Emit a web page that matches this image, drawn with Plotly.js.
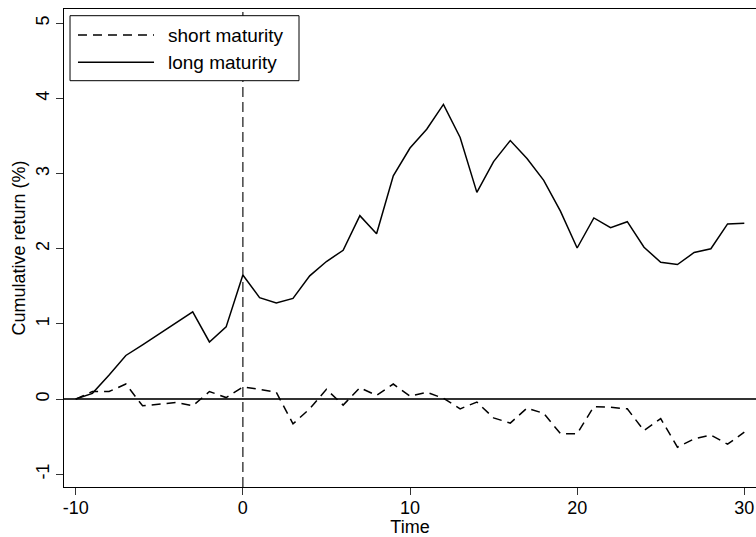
<!DOCTYPE html>
<html>
<head>
<meta charset="utf-8">
<script src="https://cdn.plot.ly/plotly-3.0.1.min.js"></script>
<style>html,body{margin:0;padding:0;background:#fff;}#chart{width:756px;height:537px;}</style>
</head>
<body>
<div id="chart"></div>
<script>
const time = [-10,-9,-8,-7,-6,-5,-4,-3,-2,-1,0,1,2,3,4,5,6,7,8,9,10,11,12,13,14,15,16,17,18,19,20,21,22,23,24,25,26,27,28,29,30];
const shortMaturity = [0,0.10,0.10,0.20,-0.09,-0.07,-0.045,-0.09,0.10,0.02,0.16,0.13,0.09,-0.33,-0.13,0.13,-0.08,0.15,0.05,0.20,0.04,0.09,0.01,-0.13,-0.04,-0.25,-0.32,-0.12,-0.19,-0.46,-0.46,-0.10,-0.11,-0.13,-0.42,-0.26,-0.64,-0.53,-0.48,-0.60,-0.44];
const longMaturity = [0,0.076,0.32,0.58,0.72,0.87,1.01,1.16,0.76,0.96,1.65,1.35,1.28,1.34,1.64,1.83,1.98,2.44,2.20,2.97,3.34,3.59,3.92,3.48,2.75,3.16,3.44,3.20,2.91,2.50,2.01,2.41,2.28,2.36,2.02,1.82,1.79,1.95,2.00,2.33,2.34];
const seriesNames = ["short maturity","long maturity"];
const xTicks = [-10,0,10,20,30];
const yTicks = [-1,0,1,2,3,4,5];

const fam = "Liberation Sans, Arial, Helvetica, sans-serif";
const shortDash = "9px,6px";

const traces = [
  {x: time, y: shortMaturity, name: seriesNames[0], mode: "lines", type: "scatter",
   line: {color: "#000", width: 1.5, dash: shortDash}},
  {x: time, y: longMaturity, name: seriesNames[1], mode: "lines", type: "scatter",
   line: {color: "#000", width: 1.5}}
];

// manual legend (paper coordinates)
const leg = {x0: 0.0087, x1: 0.3396, y0: 0.850, y1: 0.986, lx0: 0.0202, lx1: 0.1301, tx: 0.1474, rows: [0.9455, 0.8885]};
const legendShapes = [
  {type: "rect", xref: "paper", yref: "paper", x0: leg.x0, x1: leg.x1, y0: leg.y0, y1: leg.y1,
   line: {color: "#000", width: 1}, fillcolor: "#fff", layer: "above"},
  {type: "line", xref: "paper", yref: "paper", x0: leg.lx0, x1: leg.lx1, y0: leg.rows[0], y1: leg.rows[0],
   line: {color: "#000", width: 1.5, dash: shortDash}, layer: "above"},
  {type: "line", xref: "paper", yref: "paper", x0: leg.lx0, x1: leg.lx1, y0: leg.rows[1], y1: leg.rows[1],
   line: {color: "#000", width: 1.5}, layer: "above"}
];
const legendAnn = seriesNames.map((n, i) => ({
  xref: "paper", yref: "paper", x: leg.tx, y: leg.rows[i], xanchor: "left", yanchor: "middle",
  text: n, showarrow: false, font: {family: fam, size: 19, color: "#000"}
}));

const layout = {
  width: 756, height: 537,
  margin: {l: 64, r: 0, t: 9, b: 50},
  paper_bgcolor: "#fff", plot_bgcolor: "#fff",
  font: {family: fam, size: 18, color: "#000"},
  showlegend: false,
  xaxis: {
    range: [-10.7, 30.7], tickvals: xTicks, ticktext: xTicks.map(String),
    showgrid: false, zeroline: false, showline: true, linecolor: "#000", linewidth: 1,
    mirror: true, ticks: "outside", ticklen: 7, tickcolor: "#333", ticklabelstandoff: -3,
    tickfont: {family: fam, size: 18, color: "#000"},
    title: {text: "Time", font: {family: fam, size: 18, color: "#000"}, standoff: 5}
  },
  yaxis: {
    range: [-1.17, 5.19], tickvals: yTicks, ticktext: yTicks.map(String),
    showgrid: false, zeroline: true, zerolinecolor: "#333", zerolinewidth: 1.5,
    showline: true, linecolor: "#000", linewidth: 1,
    ticks: "outside", ticklen: 7, tickcolor: "#333", tickangle: -90,
    tickfont: {family: fam, size: 18, color: "#000"},
    title: {text: "Cumulative return (%)", font: {family: fam, size: 18, color: "#000"}, standoff: 2}
  },
  shapes: [
    {type: "line", xref: "x", yref: "paper", x0: 0, x1: 0, y0: 0, y1: 1,
     line: {color: "#444", width: 1.5, dash: "10px,5px"}, layer: "below"}
  ].concat(legendShapes),
  annotations: legendAnn
};

Plotly.newPlot("chart", traces, layout, {displayModeBar: false, staticPlot: true});
</script>
</body>
</html>
